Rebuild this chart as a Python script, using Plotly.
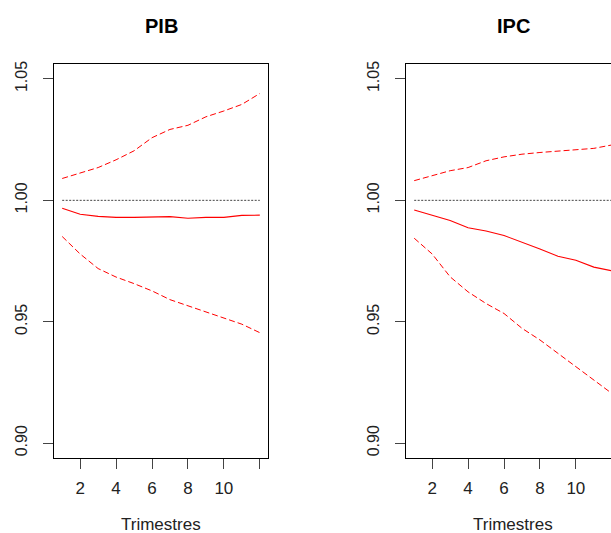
import plotly.graph_objects as go

# Horizon (quarters)
trimestres = list(range(1, 13))

# PIB impulse response: point estimate and confidence band
pib_centre = [0.9967, 0.9943, 0.9934, 0.9930, 0.9930, 0.9930, 0.9933, 0.9926, 0.9930, 0.9930, 0.9938, 0.9939]
pib_haut = [1.0090, 1.0114, 1.0135, 1.0167, 1.0204, 1.0258, 1.0292, 1.0309, 1.0344, 1.0368, 1.0395, 1.0440]
pib_bas = [0.9851, 0.9779, 0.9719, 0.9684, 0.9657, 0.9627, 0.9591, 0.9566, 0.9538, 0.9514, 0.9490, 0.9455]

# IPC impulse response: point estimate and confidence band
ipc_centre = [0.9960, 0.9940, 0.9917, 0.9887, 0.9874, 0.9855, 0.9828, 0.9800, 0.9770, 0.9753, 0.9725, 0.9710]
ipc_haut = [1.0081, 1.0101, 1.0122, 1.0135, 1.0163, 1.0179, 1.0190, 1.0197, 1.0202, 1.0209, 1.0214, 1.0228]
ipc_bas = [0.9844, 0.9779, 0.9685, 0.9623, 0.9575, 0.9534, 0.9473, 0.9425, 0.9370, 0.9316, 0.9261, 0.9205]

x_ticks = [2, 4, 6, 8, 10, 12]
x_ticktext = ["2", "4", "6", "8", "10", ""]
y_ticks = [0.90, 0.95, 1.00, 1.05]
y_ticktext = ["0.90", "0.95", "1.00", "1.05"]

W, H = 611, 533
FONT = "Liberation Sans, Arial, sans-serif"
RED = "#ff0000"

fig = go.Figure()

panels = [
    ("PIB", pib_centre, pib_haut, pib_bas, "x", "y"),
    ("IPC", ipc_centre, ipc_haut, ipc_bas, "x2", "y2"),
]

for titre, centre, haut, bas, xa, ya in panels:
    # reference level at 1
    fig.add_trace(go.Scatter(x=[trimestres[0], trimestres[-1]], y=[1.0, 1.0], mode="lines",
                             line=dict(color="#444444", width=1, dash="2px,1.5px"),
                             xaxis=xa, yaxis=ya, showlegend=False, hoverinfo="skip"))
    fig.add_trace(go.Scatter(x=trimestres, y=haut, mode="lines",
                             line=dict(color=RED, width=1, dash="6px,3px"),
                             xaxis=xa, yaxis=ya, showlegend=False))
    fig.add_trace(go.Scatter(x=trimestres, y=bas, mode="lines",
                             line=dict(color=RED, width=1, dash="6px,3px"),
                             xaxis=xa, yaxis=ya, showlegend=False))
    fig.add_trace(go.Scatter(x=trimestres, y=centre, mode="lines",
                             line=dict(color=RED, width=1.1),
                             xaxis=xa, yaxis=ya, showlegend=False))

# plot-box geometry in pixels
box_top, box_bottom = 61.7, 457.3
left_box = (54.3, 267.7)
right_box_left = 406.3

ydom = [1 - box_bottom / H, 1 - box_top / H]

common_x = dict(
    tickmode="array", tickvals=x_ticks, ticktext=x_ticktext,
    ticks="outside", ticklen=10, tickwidth=1, tickcolor="#444444",
    showline=True, linecolor="black", linewidth=1, mirror=True,
    showgrid=False, zeroline=False, ticklabelstandoff=5,
    tickfont=dict(family=FONT, size=17, color="#222222"),
)
common_y = dict(
    tickmode="array", tickvals=y_ticks, ticktext=y_ticktext, tickangle=-90,
    range=[0.894, 1.056], domain=ydom,
    ticks="outside", ticklen=10, tickwidth=1, tickcolor="#444444",
    showline=True, linecolor="black", linewidth=1,
    showgrid=False, zeroline=False, ticklabelstandoff=10,
    tickfont=dict(family=FONT, size=16, color="#222222"),
)

px_per_unit = (left_box[1] - left_box[0]) / (12.44 - 0.56)
right_xmax = 0.56 + (W - right_box_left) / px_per_unit

fig.update_layout(
    width=W, height=H, margin=dict(l=0, r=0, t=0, b=0),
    paper_bgcolor="white", plot_bgcolor="white",
    xaxis=dict(common_x, domain=[left_box[0] / W, left_box[1] / W], range=[0.56, 12.44], anchor="y"),
    yaxis=dict(common_y, mirror=True, anchor="x"),
    xaxis2=dict(common_x, domain=[right_box_left / W, 1.0], range=[0.56, right_xmax], anchor="y2"),
    yaxis2=dict(common_y, mirror=False, anchor="x2"),
)

centres = [(left_box[0] + left_box[1]) / 2, right_box_left + (left_box[1] - left_box[0]) / 2]
for (titre, *_), cx in zip(panels, centres):
    fig.add_annotation(text="<b>%s</b>" % titre, x=cx / W, y=1 - 23 / H, xref="paper", yref="paper",
                       showarrow=False, xanchor="center", yanchor="middle",
                       font=dict(family=FONT, size=20, color="black"))
    fig.add_annotation(text="Trimestres", x=cx / W, y=1 - 524 / H, xref="paper", yref="paper",
                       showarrow=False, xanchor="center", yanchor="middle",
                       font=dict(family=FONT, size=17, color="#222222"))

fig.write_html("out.html")
